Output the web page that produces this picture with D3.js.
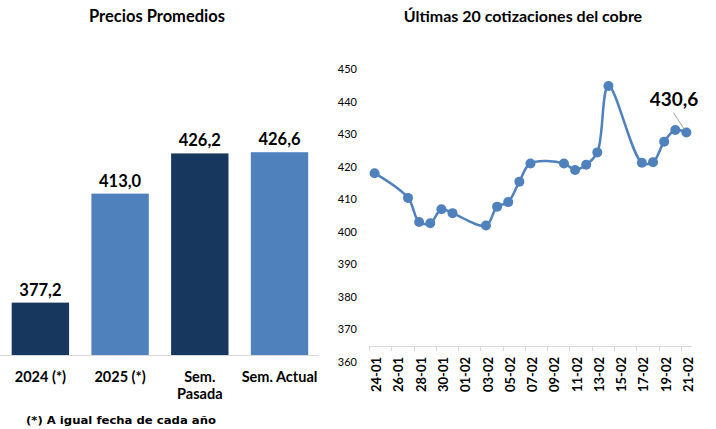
<!DOCTYPE html>
<html>
<head>
<meta charset="utf-8">
<script src="https://cdn.jsdelivr.net/npm/d3@7"></script>
<style>
  body { margin: 0; background: #fff; }
  svg { font-family: Lato, "Liberation Sans", sans-serif; }
</style>
</head>
<body>
<div id="chart"></div>
<script>
// datos barras
const barCats = [["2024 (*)"], ["2025 (*)"], ["Sem.", "Pasada"], ["Sem. Actual"]];
const barValues = [377.2, 413.0, 426.2, 426.6];
const barColors = ["#17375E", "#4F81BD", "#17375E", "#4F81BD"];

// ultimas cotizaciones
const lineDates = ["24-01", "27-01", "28-01", "29-01", "30-01", "31-01",
  "03-02", "04-02", "05-02", "06-02", "07-02",
  "10-02", "11-02", "12-02", "13-02", "14-02",
  "17-02", "18-02", "19-02", "20-02", "21-02"];
const lineValues = [418.1, 410.5, 403.1, 402.7, 407.0, 405.8,
  402.0, 407.8, 409.2, 415.5, 421.1,
  421.1, 419.1, 420.7, 424.5, 444.9,
  421.3, 421.5, 427.8, 431.4, 430.6];
const tickLabels = ["24-01", "26-01", "28-01", "30-01", "01-02", "03-02", "05-02",
  "07-02", "09-02", "11-02", "13-02", "15-02", "17-02", "19-02", "21-02"];
const yTicks = [360, 370, 380, 390, 400, 410, 420, 430, 440, 450];

const fmt = v => v.toFixed(1).replace(".", ",");
const parseDay = s => {
  const [d, m] = s.split("-").map(Number);
  return new Date(Date.UTC(2025, m - 1, d));
};
const DAY = 86400000;

const svg = d3.select("#chart").append("svg")
  .attr("width", 716)
  .attr("height", 429);

// ---------- izquierda: precios promedios ----------
svg.append("text")
  .attr("x", 157).attr("y", 22)
  .attr("text-anchor", "middle")
  .attr("font-size", 16.5).attr("font-weight", "bold")
  .text("Precios Promedios");

const xb = d3.scaleBand()
  .domain(d3.range(barValues.length))
  .range([11.7, 308.2])
  .paddingInner(0.28)
  .paddingOuter(0);

const yb = d3.scaleLinear()
  .domain([360, 440])
  .range([355, 355 - 80 * 3.045]);

const gl = svg.append("g");

gl.selectAll("rect")
  .data(barValues)
  .join("rect")
  .attr("x", (d, i) => xb(i))
  .attr("width", xb.bandwidth())
  .attr("y", d => yb(d))
  .attr("height", d => yb(360) - yb(d))
  .attr("fill", (d, i) => barColors[i]);

gl.append("line")
  .attr("x1", 0).attr("x2", 319)
  .attr("y1", 355.5).attr("y2", 355.5)
  .attr("stroke", "#d9d9d9");

gl.selectAll(".val")
  .data(barValues)
  .join("text")
  .attr("class", "val")
  .attr("x", (d, i) => xb(i) + xb.bandwidth() / 2)
  .attr("y", d => yb(d) - 7)
  .attr("text-anchor", "middle")
  .attr("font-size", 16.5).attr("font-weight", "bold")
  .text(d => fmt(d));

gl.selectAll(".cat")
  .data(barCats)
  .join("text")
  .attr("class", "cat")
  .attr("x", (d, i) => xb(i) + xb.bandwidth() / 2)
  .attr("y", 382)
  .attr("text-anchor", "middle")
  .attr("font-size", 14.5).attr("font-weight", "bold")
  .selectAll("tspan")
  .data(d => d)
  .join("tspan")
  .attr("x", function () { return d3.select(this.parentNode).attr("x"); })
  .attr("dy", (d, i) => i === 0 ? 0 : 16.5)
  .text(d => d);

svg.append("text")
  .attr("x", 26).attr("y", 424)
  .attr("font-size", 11).attr("font-weight", "bold")
  .attr("font-family", "'DejaVu Sans', sans-serif")
  .attr("textLength", 190)
  .attr("lengthAdjust", "spacingAndGlyphs")
  .text("(*) A igual fecha de cada año");

// ---------- derecha: ultimas 20 cotizaciones ----------
svg.append("text")
  .attr("x", 523).attr("y", 22)
  .attr("text-anchor", "middle")
  .attr("font-size", 16).attr("font-weight", "bold")
  .text("Últimas 20 cotizaciones del cobre");

const x0 = parseDay("24-01");
const x1 = new Date(parseDay("21-02").getTime() + DAY);
const x = d3.scaleUtc().domain([x0, x1]).range([369, 692]);
const y = d3.scaleLinear().domain([400, 450]).range([232, 232 - 50 * 3.25]);

const gr = svg.append("g");

gr.selectAll(".ytick")
  .data(yTicks)
  .join("text")
  .attr("class", "ytick")
  .attr("x", 357)
  .attr("y", d => y(d))
  .attr("dy", "0.35em")
  .attr("text-anchor", "end")
  .attr("font-size", 11)
  .text(d => d);

// eje x
const axisY = 346;
gr.append("line")
  .attr("x1", x(x0)).attr("x2", x(x1))
  .attr("y1", axisY + 0.5).attr("y2", axisY + 0.5)
  .attr("stroke", "#d9d9d9");

gr.selectAll(".xt")
  .data(tickLabels)
  .join("line")
  .attr("class", "xt")
  .attr("x1", d => Math.round(x(parseDay(d))) + 0.5)
  .attr("x2", d => Math.round(x(parseDay(d))) + 0.5)
  .attr("y1", axisY)
  .attr("y2", axisY + 5)
  .attr("stroke", "#d9d9d9");

gr.selectAll(".xl")
  .data(tickLabels)
  .join("text")
  .attr("class", "xl")
  .attr("transform", d => {
    const cx = x(new Date(parseDay(d).getTime() + DAY / 2)) + 2;
    return `translate(${cx},${axisY + 11}) rotate(-90)`;
  })
  .attr("dy", "0.35em")
  .attr("text-anchor", "end")
  .attr("font-size", 13).attr("font-weight", "bold")
  .text(d => d);

const pts = lineDates.map((d, i) => ({
  x: x(new Date(parseDay(d).getTime() + DAY / 2)),
  y: y(lineValues[i]),
  v: lineValues[i]
}));

const line = d3.line()
  .x(d => d.x)
  .y(d => d.y)
  .curve(d3.curveCatmullRom.alpha(0.5));

gr.append("path")
  .datum(pts)
  .attr("d", line)
  .attr("fill", "none")
  .attr("stroke", "#4F81BD")
  .attr("stroke-width", 2.5);

gr.selectAll("circle")
  .data(pts)
  .join("circle")
  .attr("cx", d => d.x)
  .attr("cy", d => d.y)
  .attr("r", 5)
  .attr("fill", "#4F81BD");

// etiqueta ultimo valor
const last = pts[pts.length - 1];
gr.append("line")
  .attr("x1", last.x - 13).attr("y1", last.y - 20)
  .attr("x2", last.x - 2).attr("y2", last.y - 3)
  .attr("stroke", "#a6a6a6");

gr.append("text")
  .attr("x", last.x - 12.5)
  .attr("y", last.y - 26.5)
  .attr("text-anchor", "middle")
  .attr("font-size", 19).attr("font-weight", "bold")
  .text(fmt(last.v));
</script>
</body>
</html>
